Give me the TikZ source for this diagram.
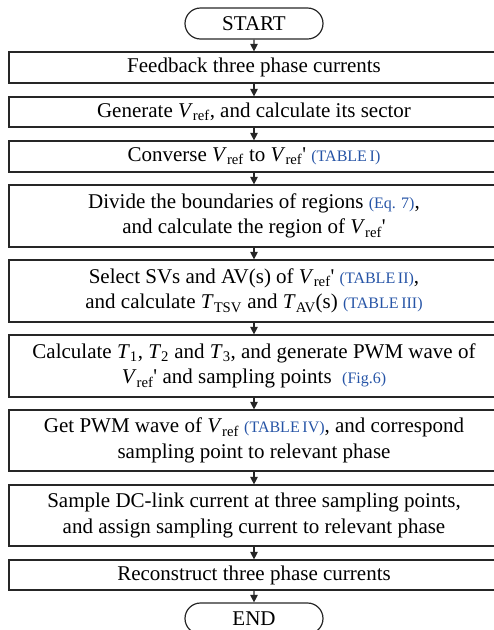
\documentclass[tikz,border=0pt]{standalone}
\usepackage{fontspec}
\setmainfont{Liberation Serif}
\usetikzlibrary{arrows.meta,shapes.misc}
\definecolor{refblue}{RGB}{38,84,166}
\newcommand{\myV}{\textit{V}\textsubscript{ref}}
\newcommand{\myVp}{\textit{V}\textsubscript{ref}\textquotesingle}
\newcommand{\myRef}[1]{{\fontsize{16}{19}\selectfont\color{refblue}#1}}
\tikzset{
  procbox/.style={draw=black!85, line width=1.2pt, rectangle, minimum width=490pt,
    inner sep=0pt, align=center, font=\fontsize{21}{25.5}\selectfont},
  termbox/.style={draw=black!85, line width=1.2pt, rounded rectangle, minimum width=138pt,
    minimum height=31pt, inner sep=0pt, font=\fontsize{21}{25.5}\selectfont},
  flow/.style={draw=black!85, line width=1.1pt, -{Triangle[length=7.5pt,width=7.5pt]}}
}
\begin{document}
\begin{tikzpicture}[x=1pt,y=-1pt]
\useasboundingbox (0,0) rectangle (494,630);
\node[termbox] (start) at (254,23.5) {START};
\node[procbox, minimum height=31pt] (b1) at (254,67.5) {Feedback three phase currents};
\node[procbox, minimum height=30pt] (b2) at (254,112) {Generate \myV, and calculate its sector};
\node[procbox, minimum height=31pt] (b3) at (254,156.5) {Converse \myV{} to \myVp{} \myRef{(TABLE\,I)}};
\node[procbox, minimum height=62pt] (b4) at (254,216) {Divide the boundaries of regions \myRef{(Eq. 7)},\\ and calculate the region of \myVp};
\node[procbox, minimum height=62pt] (b5) at (254,291) {Select SVs and AV(s) of \myVp{} \myRef{(TABLE\,II)},\\ and calculate \textit{T}\textsubscript{TSV} and \textit{T}\textsubscript{AV}(s) \myRef{(TABLE\,III)}};
\node[procbox, minimum height=62pt] (b6) at (254,366) {Calculate \textit{T}\textsubscript{1}, \textit{T}\textsubscript{2} and \textit{T}\textsubscript{3}, and generate PWM wave of\\ \myVp{} and sampling points \ \myRef{(Fig.6)}};
\node[procbox, minimum height=61pt] (b7) at (254,440.5) {Get PWM wave of \myV{} \myRef{(TABLE\,IV)}, and correspond\\ sampling point to relevant phase};
\node[procbox, minimum height=61pt] (b8) at (254,515.5) {Sample DC-link current at three sampling points,\\ and assign sampling current to relevant phase};
\node[procbox, minimum height=30pt] (b9) at (254,575) {Reconstruct three phase currents};
\node[termbox] (end) at (254,618.5) {END};
\draw[flow] (start) -- (b1);
\draw[flow] (b1) -- (b2);
\draw[flow] (b2) -- (b3);
\draw[flow] (b3) -- (b4);
\draw[flow] (b4) -- (b5);
\draw[flow] (b5) -- (b6);
\draw[flow] (b6) -- (b7);
\draw[flow] (b7) -- (b8);
\draw[flow] (b8) -- (b9);
\draw[flow] (b9) -- (end);
\end{tikzpicture}
\end{document}
